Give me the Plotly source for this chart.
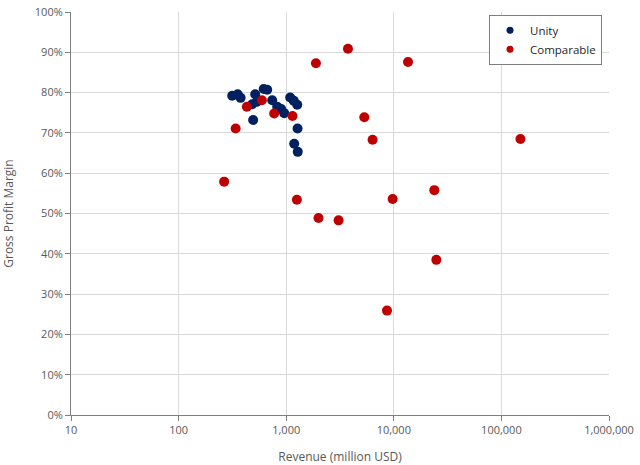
import plotly.graph_objects as go

unity_revenue = [315, 354, 377, 515, 618, 666, 483, 532, 741, 825, 898, 958,
                 1089, 1174, 1266, 493, 1274, 1187, 1280]
unity_margin = [79.2, 79.6, 78.7, 79.6, 80.9, 80.7, 77.1, 77.7, 78.1, 76.5, 75.9, 74.9,
                78.8, 78.0, 77.0, 73.2, 71.1, 67.3, 65.3]

comp_revenue = [431, 594, 773, 1144, 339, 265, 1257, 1997, 3066, 1889, 3750, 13560,
                5318, 6350, 9750, 23800, 24850, 8645, 150300]
comp_margin = [76.5, 78.1, 74.8, 74.2, 71.1, 57.9, 53.4, 48.9, 48.3, 87.3, 90.9, 87.6,
               73.9, 68.3, 53.6, 55.8, 38.5, 25.9, 68.5]

x_ticks = [10, 100, 1000, 10000, 100000, 1000000]
x_ticktext = ["10", "100", "1,000", "10,000", "100,000", "1,000,000"]
y_ticks = [0, 10, 20, 30, 40, 50, 60, 70, 80, 90, 100]
y_ticktext = [f"{v}%" for v in y_ticks]

series = [("Unity", unity_revenue, unity_margin, "#002060"),
          ("Comparable", comp_revenue, comp_margin, "#C00000")]

FONT = "Open Sans"

fig = go.Figure()
for name, xs, ys, color in series:
    fig.add_trace(go.Scatter(x=xs, y=ys, mode="markers", name=name, showlegend=False,
                             marker=dict(color=color, size=10, line=dict(width=0))))
for name, xs, ys, color in series:
    fig.add_trace(go.Scatter(x=[None], y=[None], mode="markers", name=name, showlegend=True,
                             marker=dict(color=color, size=7, line=dict(width=0))))

fig.update_layout(
    width=640, height=465,
    margin=dict(l=71, r=31, t=12, b=50),
    paper_bgcolor="white", plot_bgcolor="white",
    font=dict(family=FONT, size=11, color="#595959"),
    showlegend=True,
    legend=dict(x=0.987, y=0.993, xanchor="right", yanchor="top",
                bordercolor="#7f7f7f", borderwidth=1, bgcolor="white",
                font=dict(family=FONT, size=11.5, color="#262626"),
                itemsizing="trace", itemwidth=30, tracegroupgap=2),
)
fig.update_xaxes(
    type="log", range=[1, 6], automargin=False,
    tickvals=x_ticks, ticktext=x_ticktext,
    showgrid=True, gridcolor="#D9D9D9", gridwidth=1,
    showline=True, linecolor="#7f7f7f", linewidth=1,
    ticks="outside", ticklen=5, tickcolor="#7f7f7f",
    zeroline=False,
    title=dict(text="Revenue (million USD)", font=dict(family=FONT, size=12, color="#595959"), standoff=16),
)
fig.update_yaxes(
    range=[0, 100], automargin=False,
    tickvals=y_ticks, ticktext=y_ticktext,
    showgrid=True, gridcolor="#D9D9D9", gridwidth=1,
    showline=True, linecolor="#7f7f7f", linewidth=1,
    ticks="outside", ticklen=5, tickcolor="#7f7f7f",
    zeroline=False,
    title=dict(text="Gross Profit Margin", font=dict(family=FONT, size=12, color="#595959"), standoff=18),
)

fig.write_html("out.html",
               config={"displayModeBar": False},
               post_script="document.body.style.margin='0';document.body.style.padding='0';")
